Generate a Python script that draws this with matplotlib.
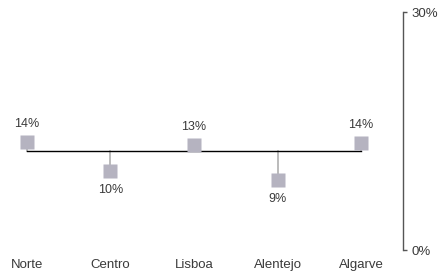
import matplotlib
matplotlib.use("Agg")
import matplotlib.pyplot as plt

categories = ["Norte", "Centro", "Lisboa", "Alentejo", "Algarve"]
values = [13.7, 10.0, 13.3, 8.9, 13.6]
value_labels = ["14%", "10%", "13%", "9%", "14%"]
baseline = 12.5
y_ticks = [0, 30]
y_tick_labels = ["0%", "30%"]

plt.rcParams['font.family'] = ['Liberation Sans', 'DejaVu Sans']
text_color = "#3a3a3a"

fig = plt.figure(figsize=(4.42, 2.74), dpi=100)
ax = fig.add_axes([0.0, 0.0858, 0.9118, 0.8686])

x = list(range(len(categories)))

# baseline
ax.plot([x[0], x[-1]], [baseline, baseline], color="black", lw=1.0, zorder=2)
# stems
for xi, v in zip(x, values):
    ax.plot([xi, xi], [baseline, v], color="#a8a8a8", lw=1.1, zorder=1)
# markers
ax.plot(x, values, linestyle="none", marker="s", markersize=10.5,
        markerfacecolor="#b5b3c0", markeredgecolor="none", zorder=3)
# value labels
for xi, v, lab in zip(x, values, value_labels):
    off = 12.8 if v >= baseline else -13.5
    ax.annotate(lab, (xi, v), xytext=(0, off), textcoords="offset points",
                ha="center", va="center", fontsize=9, color=text_color)

ax.set_xlim(-0.323, 4.503)
ax.set_ylim(0, 30)

ax.set_xticks(x)
ax.set_xticklabels(categories, fontsize=9.5, color=text_color)
ax.tick_params(axis="x", length=0, pad=6.2)

ax.yaxis.tick_right()
ax.set_yticks(y_ticks)
ax.set_yticklabels(y_tick_labels, fontsize=9.5, color=text_color)
ax.tick_params(axis="y", direction="out", length=3, width=1, color="#555555", pad=3)

for s in ["left", "top", "bottom"]:
    ax.spines[s].set_visible(False)
ax.spines["right"].set_color("#555555")
ax.spines["right"].set_linewidth(1.0)
ax.patch.set_alpha(0)

fig.savefig("out.png", dpi=100)
